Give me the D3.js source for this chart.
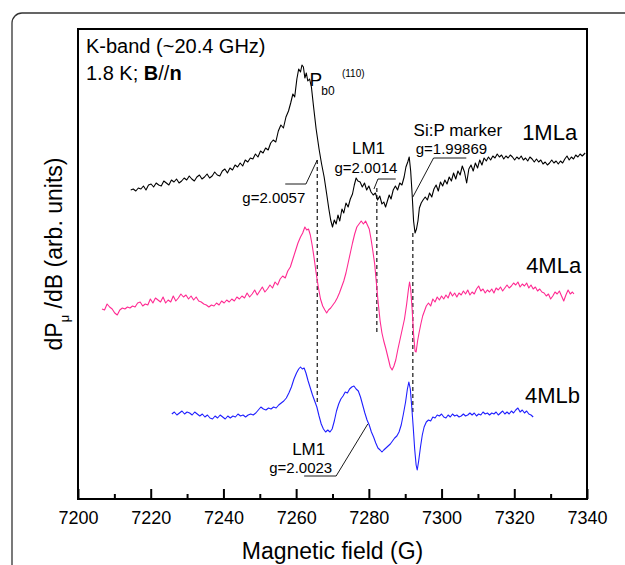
<!DOCTYPE html>
<html>
<head>
<meta charset="utf-8">
<script src="https://cdn.jsdelivr.net/npm/d3@7"></script>
<style>
  body { margin: 0; background: #fff; }
  svg text { font-family: "Liberation Sans", Arial, sans-serif; fill: #000; }
</style>
</head>
<body>
<script>
let width = 625,
    height = 565;
let margin = {top: 29, right: 36, bottom: 66, left: 78};

// field axis (G)
let fieldTicks = [7200, 7220, 7240, 7260, 7280, 7300, 7320, 7340];
let minorTicks = [7210, 7230, 7250, 7270, 7290, 7310, 7330];

let seriesNames = ["1MLa", "4MLa", "4MLb"];
let seriesColors = ["#000000", "#ff2a92", "#1f1fff"];

// [field (G), dP/dB (arb. units)]
let trace1MLa = [
  [7214.5,309],[7215.2,310],[7215.9,308],[7216.6,311],[7217.3,310],[7218.0,313],[7218.7,309],[7219.4,314],
  [7220.1,315],[7220.8,312],[7221.5,316],[7222.2,314],[7222.9,313],[7223.6,318],[7224.3,316],[7225.0,314],
  [7225.7,319],[7226.4,317],[7227.1,320],[7227.8,316],[7228.5,318],[7229.2,321],[7229.9,319],[7230.6,323],
  [7231.3,320],[7232.0,318],[7232.7,322],[7233.4,324],[7234.1,320],[7234.8,322],[7235.5,325],[7236.2,321],
  [7236.9,323],[7237.6,327],[7238.3,324],[7239.0,323],[7239.7,328],[7240.4,330],[7241.1,326],[7241.8,331],
  [7242.5,329],[7243.2,334],[7243.9,332],[7244.6,336],[7245.3,333],[7246.0,339],[7246.7,337],[7247.4,341],
  [7248.1,340],[7248.8,345],[7249.5,342],[7250.2,348],[7250.9,346],[7251.6,351],[7252.3,349],[7253.0,356],
  [7253.7,359],[7254.4,357],[7255.1,368],[7255.8,374],[7256.5,371],[7257.2,382],[7257.9,388],[7258.5,396],
  [7259.1,405],[7259.6,402],[7260.2,420],[7260.7,430],[7261.2,427],[7261.6,434],[7262.0,432],[7262.4,421],
  [7262.8,426],[7263.2,418],[7263.7,420],[7264.2,412],[7264.8,392],[7265.5,370],[7266.3,350],[7267.0,335],
  [7267.7,322],[7268.4,305],[7269.0,290],[7269.5,279],[7270.0,272],[7270.5,279],[7271.0,275],[7271.5,284],
  [7272.0,278],[7272.6,290],[7273.1,286],[7273.7,296],[7274.3,292],[7274.9,300],[7275.5,305],[7276.0,314],
  [7276.5,321],[7277.0,318],[7277.6,317],[7278.2,312],[7278.8,316],[7279.4,309],[7280.0,313],[7280.6,307],
  [7281.2,304],[7281.8,306],[7282.4,299],[7283.0,303],[7283.6,295],[7284.1,297],[7284.6,292],[7285.1,298],
  [7285.6,304],[7286.1,300],[7286.7,309],[7287.3,313],[7287.9,309],[7288.5,316],[7289.1,314],[7289.7,322],
  [7290.2,332],[7290.7,337],[7291.1,342],[7291.5,328],[7291.9,305],[7292.3,278],[7292.7,266],[7293.1,270],
  [7293.5,278],[7293.9,291],[7294.4,296],[7294.9,299],[7295.5,302],[7296.1,299],[7296.7,306],[7297.3,302],
  [7297.9,310],[7298.5,314],[7299.1,308],[7299.7,317],[7300.3,313],[7300.9,319],[7301.5,315],[7302.1,322],
  [7302.7,318],[7303.3,326],[7303.9,320],[7304.5,328],[7305.1,324],[7305.7,333],[7306.3,327],[7306.9,316],
  [7307.5,330],[7308.1,334],[7308.7,328],[7309.3,336],[7309.9,331],[7310.5,339],[7311.1,334],[7311.7,341],
  [7312.3,338],[7312.9,342],[7313.5,339],[7314.1,343],[7314.7,341],[7315.3,345],[7315.9,342],[7316.5,344],
  [7317.1,340],[7317.7,343],[7318.3,341],[7318.9,344],[7319.5,342],[7320.1,339],[7320.7,342],[7321.3,340],
  [7321.9,343],[7322.5,339],[7323.1,341],[7323.7,338],[7324.3,342],[7324.9,340],[7325.5,337],[7326.1,340],
  [7326.7,337],[7327.3,339],[7327.9,335],[7328.5,337],[7329.1,334],[7329.7,336],[7330.3,339],[7330.9,336],
  [7331.5,338],[7332.1,335],[7332.7,338],[7333.3,336],[7333.9,340],[7334.5,343],[7335.1,339],[7335.7,342],
  [7336.3,340],[7336.9,344],[7337.5,342],[7338.1,345],[7338.7,343],[7339.5,346]
];

let trace4MLa = [
  [7206.6,190],[7207.3,189],[7208.0,195],[7208.7,192],[7209.4,190],[7210.1,186],[7210.8,184],[7211.5,189],
  [7212.2,191],[7212.9,190],[7213.6,192],[7214.3,191],[7215.0,193],[7215.7,192],[7216.4,196],[7217.1,197],
  [7217.8,193],[7218.5,195],[7219.2,194],[7219.9,200],[7220.6,196],[7221.3,201],[7222.0,199],[7222.7,197],
  [7223.4,202],[7224.1,196],[7224.8,199],[7225.5,197],[7226.2,203],[7226.9,198],[7227.6,201],[7228.3,205],
  [7229.0,202],[7229.7,204],[7230.4,200],[7231.1,203],[7231.8,199],[7232.5,202],[7233.2,198],[7233.9,197],
  [7234.6,195],[7235.3,194],[7236.0,192],[7236.7,194],[7237.4,193],[7238.1,196],[7238.8,194],[7239.5,198],
  [7240.2,196],[7240.9,199],[7241.6,197],[7242.3,200],[7243.0,198],[7243.7,202],[7244.4,200],[7245.1,203],
  [7245.8,201],[7246.5,206],[7247.2,202],[7247.9,205],[7248.6,209],[7249.3,204],[7250.0,208],[7250.7,212],
  [7251.4,207],[7252.1,210],[7252.8,214],[7253.5,211],[7254.2,217],[7254.9,214],[7255.6,220],[7256.3,223],
  [7257.0,221],[7257.7,228],[7258.4,232],[7259.1,240],[7259.8,248],[7260.5,256],[7261.2,262],[7261.8,266],
  [7262.4,272],[7262.9,269],[7263.4,270],[7263.9,264],[7264.4,254],[7264.9,242],[7265.5,226],[7266.1,212],
  [7266.7,200],[7267.3,193],[7267.9,189],[7268.4,186],[7268.9,189],[7269.5,191],[7270.1,194],[7270.7,197],
  [7271.3,201],[7271.9,206],[7272.5,212],[7273.1,218],[7273.7,226],[7274.3,236],[7274.9,246],[7275.5,256],
  [7276.1,265],[7276.7,272],[7277.3,275],[7277.9,278],[7278.5,275],[7279.1,278],[7279.6,274],[7280.1,270],
  [7280.6,260],[7281.1,248],[7281.6,235],[7282.1,215],[7282.6,195],[7283.1,178],[7283.6,166],[7284.1,158],
  [7284.7,150],[7285.3,141],[7285.9,132],[7286.4,129],[7286.9,133],[7287.4,139],[7288.0,150],[7288.6,160],
  [7289.2,170],[7289.8,180],[7290.4,195],[7290.9,210],[7291.2,217],[7291.5,210],[7291.9,190],[7292.3,165],
  [7292.7,148],[7293.0,147],[7293.4,158],[7293.8,166],[7294.3,175],[7294.8,183],[7295.3,188],[7295.8,193],
  [7296.4,196],[7297.0,193],[7297.6,200],[7298.2,197],[7298.8,202],[7299.4,199],[7300.0,203],[7300.6,200],
  [7301.2,204],[7301.8,201],[7302.4,207],[7303.0,203],[7303.6,206],[7304.2,202],[7304.8,206],[7305.4,204],
  [7306.0,208],[7306.6,205],[7307.2,209],[7307.8,204],[7308.4,207],[7309.0,205],[7309.6,210],[7310.2,213],
  [7310.8,208],[7311.4,210],[7312.0,206],[7312.6,209],[7313.2,207],[7313.8,210],[7314.4,206],[7315.0,211],
  [7315.6,209],[7316.2,212],[7316.8,208],[7317.4,211],[7318.0,214],[7318.6,211],[7319.2,213],[7319.8,216],
  [7320.4,214],[7321.0,217],[7321.6,212],[7322.2,215],[7322.8,213],[7323.4,216],[7324.0,211],[7324.6,214],
  [7325.2,210],[7325.8,212],[7326.4,208],[7327.0,210],[7327.6,207],[7328.2,206],[7328.8,203],[7329.4,205],
  [7330.0,200],[7330.6,203],[7331.2,207],[7331.8,205],[7332.4,208],[7333.0,203],[7333.6,198],[7334.2,204],
  [7334.8,209],[7335.4,205],[7336.0,207],[7336.4,205]
];

let trace4MLb = [
  [7225.8,85],[7226.5,87],[7227.2,84],[7227.9,86],[7228.6,88],[7229.3,85],[7230.0,87],[7230.7,86],
  [7231.4,84],[7232.1,87],[7232.8,85],[7233.5,83],[7234.2,85],[7234.9,82],[7235.6,84],[7236.3,81],
  [7237.0,80],[7237.7,83],[7238.4,81],[7239.1,84],[7239.8,82],[7240.5,80],[7241.2,83],[7241.9,81],
  [7242.6,83],[7243.3,82],[7244.0,85],[7244.7,83],[7245.4,84],[7246.1,82],[7246.8,84],[7247.5,85],
  [7248.2,84],[7248.9,86],[7249.6,89],[7250.3,92],[7251.0,90],[7251.7,89],[7252.4,91],[7253.1,90],
  [7253.8,92],[7254.5,91],[7255.2,94],[7255.9,96],[7256.6,98],[7257.3,101],[7258.0,106],[7258.7,112],
  [7259.4,120],[7260.1,126],[7260.7,130],[7261.2,132],[7261.7,130],[7262.2,131],[7262.7,126],[7263.3,118],
  [7263.9,111],[7264.5,104],[7265.1,98],[7265.7,92],[7266.3,83],[7266.9,75],[7267.5,70],[7268.1,67],
  [7268.7,69],[7269.3,67],[7269.9,70],[7270.5,78],[7271.1,88],[7271.7,95],[7272.3,100],[7272.9,103],
  [7273.5,107],[7274.1,106],[7274.7,110],[7275.3,112],[7275.9,113],[7276.5,110],[7277.1,108],[7277.7,102],
  [7278.3,94],[7278.9,86],[7279.5,79],[7280.1,74],[7280.7,67],[7281.3,62],[7281.9,56],[7282.5,51],
  [7283.1,49],[7283.6,47],[7284.1,49],[7284.7,51],[7285.3,53],[7285.9,55],[7286.5,58],[7287.1,61],
  [7287.7,63],[7288.3,67],[7288.9,74],[7289.5,85],[7290.1,97],[7290.6,110],[7291.0,117],[7291.4,110],
  [7291.8,92],[7292.2,72],[7292.6,50],[7293.0,34],[7293.3,29],[7293.7,38],[7294.2,52],[7294.7,64],
  [7295.2,72],[7295.8,77],[7296.4,79],[7297.0,78],[7297.6,82],[7298.2,81],[7298.8,84],[7299.4,83],
  [7300.0,85],[7300.6,82],[7301.2,81],[7301.8,84],[7302.4,82],[7303.0,85],[7303.6,83],[7304.2,84],
  [7304.8,82],[7305.4,83],[7306.0,85],[7306.6,83],[7307.2,84],[7307.8,86],[7308.4,84],[7309.0,86],
  [7309.6,83],[7310.2,85],[7310.8,84],[7311.4,87],[7312.0,85],[7312.6,86],[7313.2,84],[7313.8,86],
  [7314.4,85],[7315.0,87],[7315.6,84],[7316.2,86],[7316.8,88],[7317.4,85],[7318.0,87],[7318.6,85],
  [7319.2,88],[7319.8,86],[7320.4,89],[7321.0,91],[7321.6,87],[7322.2,89],[7322.8,86],[7323.4,88],
  [7324.0,85],[7324.6,84],[7325.2,82]
];

// dashed guide lines: field and vertical extent (arb. units)
let markerFields = [7265.8, 7282.2, 7292.1];
let markerTop = [339, 311, 266];
let markerBottom = [96, 164, 84];

let traces = [trace1MLa, trace4MLa, trace4MLb];

let svg = d3.select("body")
            .append("svg")
            .attr("width", width)
            .attr("height", height);

// outer rounded panel border
svg.append("rect")
   .attr("x", 12).attr("y", 13)
   .attr("width", 640).attr("height", 580)
   .attr("rx", 10)
   .attr("fill", "none")
   .attr("stroke", "#333")
   .attr("stroke-width", 1.3);

let xScale = d3.scaleLinear()
               .domain([7200, 7340])
               .range([margin.left, width - margin.right - 2]);

let yScale = d3.scaleLinear()
               .domain([0, 470])
               .range([height - margin.bottom, margin.top]);

let line = d3.line()
             .x(function(d) { return xScale(d[0]); })
             .y(function(d) { return yScale(d[1]); });

// dashed guides
svg.selectAll(".guide")
   .data(markerFields)
   .enter()
   .append("line")
   .attr("x1", function(d) { return xScale(d); })
   .attr("x2", function(d) { return xScale(d); })
   .attr("y1", function(d, i) { return yScale(markerTop[i]); })
   .attr("y2", function(d, i) { return yScale(markerBottom[i]); })
   .attr("stroke", "#000")
   .attr("stroke-width", 1.1)
   .attr("stroke-dasharray", "4,3");

// spectra
svg.selectAll(".trace")
   .data(traces)
   .enter()
   .append("path")
   .attr("d", line)
   .attr("fill", "none")
   .attr("stroke", function(d, i) { return seriesColors[i]; })
   .attr("stroke-width", 1.1)
   .attr("stroke-linejoin", "round");

// x axis, ticks inside
let xAxis = d3.axisBottom(xScale).tickValues(fieldTicks).tickSize(-10).tickPadding(12)
              .tickFormat(d3.format("d"));
let xMinor = d3.axisBottom(xScale).tickValues(minorTicks).tickSize(-5).tickFormat("");

let gx = svg.append("g")
   .attr("transform", "translate(0," + (height - margin.bottom) + ")")
   .call(xAxis);
gx.select(".domain").remove();
gx.selectAll("line").attr("stroke-width", 2);
gx.selectAll("text").style("font-size", "18px").attr("fill", "#111");

let gm = svg.append("g")
   .attr("transform", "translate(0," + (height - margin.bottom) + ")")
   .call(xMinor);
gm.select(".domain").remove();
gm.selectAll("line").attr("stroke-width", 2);

// frame
svg.append("rect")
   .attr("x", xScale(7200)).attr("y", margin.top)
   .attr("width", xScale(7340) - xScale(7200))
   .attr("height", height - margin.bottom - margin.top)
   .attr("fill", "none")
   .attr("stroke", "#000")
   .attr("stroke-width", 2);

// axis titles
svg.append("text")
   .attr("x", (xScale(7200) + xScale(7340)) / 2)
   .attr("y", 559)
   .attr("text-anchor", "middle")
   .style("font-size", "23px")
   .attr("fill", "#111")
   .text("Magnetic field (G)");

let yt = svg.append("text")
   .attr("transform", "translate(62,254) rotate(-90)")
   .attr("text-anchor", "middle")
   .style("font-size", "23px")
   .attr("fill", "#111");
yt.append("tspan").text("dP");
yt.append("tspan").attr("dy", 7).style("font-size", "13px").text("\u03bc");
yt.append("tspan").attr("dy", -7).text(" /dB (arb. units)");

// header text
svg.append("text").attr("x", 86).attr("y", 53).style("font-size", "20px")
   .text("K-band (~20.4 GHz)");
let h2 = svg.append("text").attr("x", 86).attr("y", 80).style("font-size", "20px");
h2.append("tspan").text("1.8 K; ");
h2.append("tspan").style("font-weight", "bold").text("B");
h2.append("tspan").text("//");
h2.append("tspan").style("font-weight", "bold").text("n");

// series labels
let labelField = [7337.3, 7338.4, 7338.1];
let labelValue = [359, 226, 96];
svg.selectAll(".slabel")
   .data(seriesNames)
   .enter()
   .append("text")
   .attr("x", function(d, i) { return xScale(labelField[i]); })
   .attr("y", function(d, i) { return yScale(labelValue[i]); })
   .attr("text-anchor", "end")
   .style("font-size", "22px")
   .text(function(d) { return d; });

// annotations
function note(f, v, txt, size, anchor) {
  return svg.append("text")
     .attr("x", xScale(f)).attr("y", yScale(v))
     .attr("text-anchor", anchor || "start")
     .style("font-size", size + "px")
     .text(txt);
}
function leader(pts) {
  svg.append("path")
     .attr("d", d3.line().x(function(d) { return xScale(d[0]); }).y(function(d) { return yScale(d[1]); })(pts))
     .attr("fill", "none")
     .attr("stroke", "#000")
     .attr("stroke-width", 0.9);
}

note(7263.7, 413, "P", 19);
note(7266.9, 404, "b0", 12);
note(7272.6, 422, "(110)", 10);

note(7279.9, 345, "LM1", 17, "middle");
note(7279.2, 326, "g=2.0014", 15, "middle");
leader([[7287.4, 320], [7282.5, 320], [7281.4, 310]]);

note(7245.2, 296, "g=2.0057", 15);
leader([[7257.0, 315], [7262.7, 315], [7265.8, 339]]);

note(7292.3, 363, "Si:P marker", 17);
note(7292.9, 345, "g=1.99869", 15);
leader([[7306.8, 341], [7297.8, 341], [7292.1, 302]]);

note(7258.9, 44, "LM1", 17);
note(7252.6, 26, "g=2.0023", 15);
leader([[7262.2, 23], [7271.0, 23], [7279.7, 75]]);
</script>
</body>
</html>
